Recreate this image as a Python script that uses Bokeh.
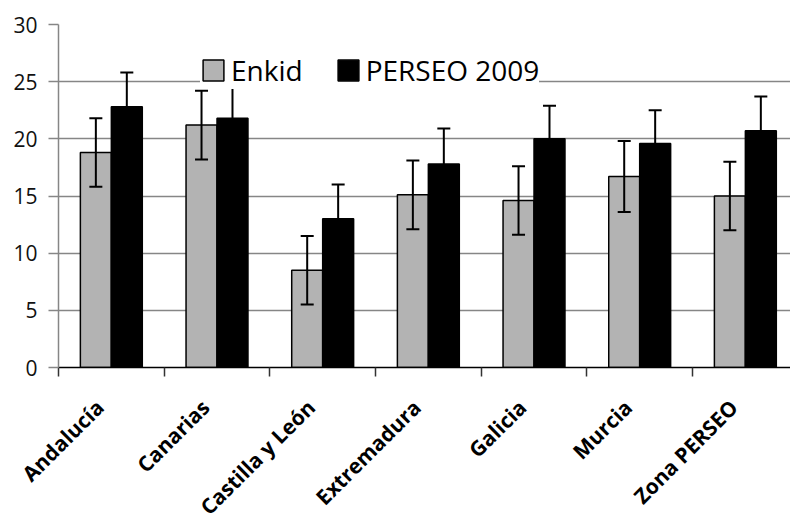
import numpy as np
from math import pi
from bokeh.plotting import figure
from bokeh.models import (ColumnDataSource, Range1d, FixedTicker, LinearAxis, Grid,
                          Whisker, TeeHead, Legend, LegendItem)
from bokeh.transform import dodge
from bokeh.embed import file_html
from bokeh.resources import INLINE

# ---- data ----
regions = ["Andalucía", "Canarias", "Castilla y León", "Extremadura", "Galicia", "Murcia", "Zona PERSEO"]
enkid = [18.8, 21.2, 8.5, 15.1, 14.6, 16.7, 15.0]
enkid_err = [3.0, 3.0, 3.0, 3.0, 3.0, 3.1, 3.0]
perseo = [22.8, 21.8, 13.0, 17.8, 20.0, 19.6, 20.7]
perseo_err = [3.0, 2.9, 3.0, 3.1, 2.9, 2.9, 3.0]
y_ticks = [0, 5, 10, 15, 20, 25, 30]
series_names = ["Enkid", "PERSEO 2009"]

# ---- layout / style ----
GRAY = "#b3b3b3"
GRID = "#868686"
FONT = "Open Sans"
BAR_W = 0.293
OFF = BAR_W / 2
LABEL_SHIFT = 0.11   # rotated labels end slightly left of the category centre

n = len(regions)
centers = np.arange(n) + 0.5
src = ColumnDataSource(dict(
    x=centers,
    enkid=enkid,
    enkid_lo=np.array(enkid) - np.array(enkid_err),
    enkid_hi=np.array(enkid) + np.array(enkid_err),
    perseo=perseo,
    perseo_lo=np.array(perseo) - np.array(perseo_err),
    perseo_hi=np.array(perseo) + np.array(perseo_err),
))

frame_w = 732
p = figure(frame_width=frame_w, frame_height=343,
           x_range=Range1d(0, frame_w / 105.67), y_range=Range1d(0, 30),
           x_axis_type=None, y_axis_type=None,
           output_backend="svg", toolbar_location=None,
           min_border_left=58, min_border_top=24, min_border_right=0, min_border_bottom=0)
p.outline_line_color = None
p.background_fill_color = "white"

grid = Grid(dimension=1, ticker=FixedTicker(ticks=y_ticks),
            grid_line_color=GRID, grid_line_width=1.5)
p.add_layout(grid)

yaxis = LinearAxis(ticker=FixedTicker(ticks=y_ticks))
yaxis.axis_line_color = GRID
yaxis.axis_line_width = 1.5
yaxis.major_tick_line_color = GRID
yaxis.major_tick_line_width = 1.5
yaxis.major_tick_out = 10
yaxis.major_tick_in = 0
yaxis.minor_tick_line_color = None
yaxis.major_label_text_font = FONT
yaxis.major_label_text_font_size = "21px"
yaxis.major_label_text_color = "#111111"
yaxis.major_label_standoff = 11
p.add_layout(yaxis, "left")

label_pos = [float(c - LABEL_SHIFT) for c in centers]
xaxis = LinearAxis(ticker=FixedTicker(ticks=label_pos, minor_ticks=list(range(n + 1))))
xaxis.major_label_overrides = {lp: r for lp, r in zip(label_pos, regions)}
xaxis.axis_line_color = "black"
xaxis.axis_line_width = 1.5
xaxis.major_tick_line_color = None
xaxis.major_tick_out = 0
xaxis.major_tick_in = 0
xaxis.minor_tick_line_color = "#333333"
xaxis.minor_tick_line_width = 1.5
xaxis.minor_tick_out = 9
xaxis.minor_tick_in = 0
xaxis.major_label_orientation = pi / 4
xaxis.major_label_text_font = FONT
xaxis.major_label_text_font_style = "bold"
xaxis.major_label_text_font_size = "21px"
xaxis.major_label_text_color = "black"
xaxis.major_label_standoff = 27
p.add_layout(xaxis, "below")

r1 = p.vbar(x=dodge("x", -OFF), top="enkid", width=BAR_W, source=src,
            fill_color=GRAY, line_color="black", line_width=1.5)
r2 = p.vbar(x=dodge("x", OFF), top="perseo", width=BAR_W, source=src,
            fill_color="black", line_color="black", line_width=1.5)

for key, off in (("enkid", -OFF), ("perseo", OFF)):
    w = Whisker(base=dodge("x", off), lower=key + "_lo", upper=key + "_hi", source=src,
                line_color="black", line_width=2, level="annotation",
                upper_head=TeeHead(size=13, line_color="black", line_width=2),
                lower_head=TeeHead(size=13, line_color="black", line_width=2))
    p.add_layout(w)

legend = Legend(items=[LegendItem(label=series_names[0], renderers=[r1]),
                       LegendItem(label=series_names[1], renderers=[r2])],
                orientation="horizontal", location=(142, 278),
                glyph_width=26, glyph_height=26, label_standoff=5, spacing=32,
                padding=16, margin=0, border_line_color=None,
                background_fill_color="white", background_fill_alpha=1.0,
                label_text_font=FONT, label_text_font_size="28px", label_text_color="black")
p.add_layout(legend)

open("out.html", "w").write(file_html(p, INLINE))
